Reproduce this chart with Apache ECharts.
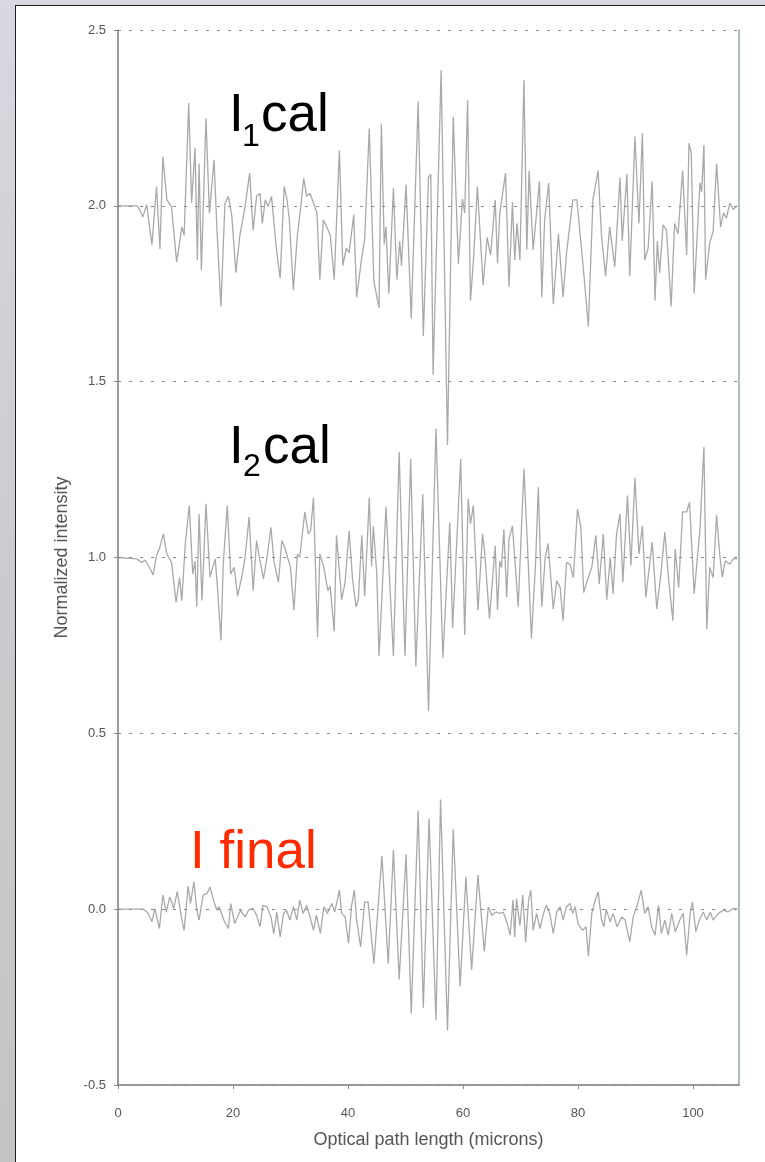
<!DOCTYPE html>
<html>
<head>
<meta charset="utf-8">
<script src="https://cdn.jsdelivr.net/npm/echarts@6/dist/echarts.min.js"></script>
<style>
  html, body { margin: 0; padding: 0; width: 765px; height: 1162px; overflow: hidden;
    background: linear-gradient(to bottom, #d8d8e0 0%, #cdcdd2 40%, #c4c4c4 100%); }
  #panel { position: absolute; left: 15px; top: 5px; width: 760px; height: 1170px;
    background: #ffffff; border: 1.5px solid #1e1e1e; box-sizing: border-box; }
  #chart { position: absolute; left: 0; top: 0; width: 765px; height: 1162px; }
</style>
</head>
<body>
<div id="panel"></div>
<div id="chart"></div>
<script>
// Optical path positions (microns) and normalized intensities for each trace.
const i1Path = [0,3.3,3.8,4.3,5.0,5.9,6.7,7.3,7.8,8.5,9.3,10.2,11.1,11.5,12.3,12.8,13.4,13.8,14.1,14.5,15.3,15.9,16.7,17.2,17.9,18.6,19.2,19.8,20.5,21.2,22.1,22.9,23.5,24.1,24.7,25.1,25.6,26.1,26.7,27.5,28.2,28.9,29.4,29.8,30.5,31.2,31.7,32.3,32.8,33.4,34.0,34.6,35.1,35.7,36.3,36.9,37.6,38.5,39.1,39.7,40.2,41.0,41.5,42.4,42.9,43.7,44.5,45.4,45.8,46.3,46.6,47.1,47.9,48.5,49.0,49.3,50.1,51.0,52.2,53.1,54.0,54.4,54.8,56.2,57.3,58.3,59.2,59.9,60.3,60.8,61.3,61.8,62.5,63.5,64.2,64.8,65.6,66.0,66.4,67.4,68.0,68.6,69.0,69.4,69.9,70.6,71.1,71.5,72.2,73.3,73.7,74.2,74.9,75.7,76.6,77.4,78.0,79.1,79.8,80.9,81.8,82.6,83.5,84.1,84.8,85.5,86.4,87.3,87.7,88.5,89.0,89.9,90.6,91.2,91.6,92.2,92.9,93.4,93.8,94.2,94.8,95.4,96.2,96.8,97.4,98.2,98.9,99.3,99.7,100.2,101.2,101.5,101.9,102.2,102.9,103.5,104.1,104.8,105.3,105.8,106.4,107.0,107.7];
const i1Val = [2.0,2.0,1.989,1.968,2.003,1.889,2.055,1.877,2.14,2.017,1.998,1.84,1.94,1.916,2.292,2.008,2.164,1.846,2.12,1.817,2.249,1.979,2.13,1.936,1.714,2.008,2.027,1.97,1.81,1.917,1.998,2.093,1.93,2.027,2.036,1.95,2.017,1.998,2.027,1.884,1.794,2.055,2.017,1.96,1.761,1.917,1.985,2.078,2.027,2.036,2.008,1.979,1.79,1.96,1.94,1.918,1.79,2.158,1.83,1.88,1.867,1.975,1.74,1.854,1.905,2.22,1.785,1.71,2.234,1.89,1.94,1.75,2.05,1.79,1.9,1.83,2.06,1.68,2.297,1.63,2.08,2.09,1.52,2.386,1.32,2.253,1.835,2.02,1.98,2.30,1.73,1.84,2.055,1.775,1.91,1.86,2.017,1.837,1.98,2.093,1.77,2.01,1.846,1.95,1.846,2.358,1.875,2.10,1.875,2.07,1.74,1.96,2.065,1.72,1.92,1.74,1.865,2.017,2.017,1.827,1.657,2.017,2.10,1.913,1.80,1.94,1.827,2.08,1.90,2.09,1.80,2.197,1.95,2.207,1.846,1.88,2.07,1.73,1.90,1.81,1.946,1.93,1.714,1.95,1.92,2.10,1.86,2.178,2.15,1.75,2.065,2.04,2.173,1.79,1.894,1.927,2.12,1.94,1.98,1.965,2.008,1.99,2.0];

const i2Path = [0,3.3,4.1,4.7,5.6,6.1,6.7,7.2,7.9,8.5,9.3,10.1,10.7,11.1,11.7,12.4,13.0,13.4,13.7,14.1,14.6,15.3,16.0,16.9,17.3,17.9,18.3,19.0,19.6,20.2,20.8,21.5,22.1,22.8,23.5,24.1,24.6,25.3,26.0,26.6,27.1,27.9,28.5,29.0,29.4,30.0,30.6,31.2,31.6,32.5,33.1,33.5,34.0,34.7,35.1,35.8,36.5,36.9,37.6,38.0,38.9,39.5,40.2,40.8,41.4,41.8,42.4,42.9,43.7,44.1,44.4,45.0,45.4,46.0,46.6,47.9,48.9,49.9,50.9,51.8,53.0,54.0,55.3,56.5,57.7,58.2,59.6,60.3,60.9,61.3,61.8,62.6,63.4,63.8,64.6,65.6,66.0,66.4,66.7,67.1,67.6,68.0,68.6,69.6,70.6,71.2,71.9,72.6,73.1,73.7,74.3,74.8,75.7,76.3,76.9,77.4,78.0,78.6,79.2,79.9,80.5,81.0,81.6,82.4,83.1,83.7,84.4,85.0,85.6,86.1,86.7,87.3,87.8,88.6,89.2,89.9,90.6,91.2,91.8,92.9,93.7,94.4,95.1,95.8,96.5,96.9,97.5,98.2,98.9,99.4,100.2,101.2,101.9,102.4,102.9,103.5,104.1,104.7,105.1,105.6,106.4,107.0,107.7];
const i2Val = [1.0,0.996,0.986,0.993,0.968,0.95,1.006,1.025,1.067,1.01,0.986,0.872,0.943,0.877,1.039,1.148,0.953,0.99,0.86,1.124,0.878,1.153,0.944,0.996,0.915,0.764,0.981,1.148,0.953,0.972,0.89,0.943,1.0,1.115,0.906,1.048,1.0,0.939,1.01,1.086,0.991,0.929,1.048,1.029,1.006,0.972,0.85,1.01,1.0,1.13,1.067,1.077,1.17,0.773,1.01,0.972,0.906,0.918,0.79,1.063,0.88,0.93,1.076,0.937,0.86,0.88,1.063,0.89,1.17,0.975,1.089,0.956,0.72,0.924,1.145,0.72,1.30,0.72,1.28,0.69,1.18,0.563,1.367,0.715,1.10,0.80,1.28,0.78,1.167,1.096,1.148,0.85,1.067,1.01,0.826,1.034,0.85,0.99,0.972,1.08,0.887,1.053,1.09,0.86,1.252,1.039,0.77,0.977,1.20,0.86,1.0,1.04,0.854,0.934,0.915,0.82,0.986,0.981,0.943,1.138,1.086,0.90,0.934,0.972,1.063,0.925,1.067,0.88,1.0,0.897,1.067,1.124,0.93,1.176,0.977,1.227,1.01,1.09,0.887,1.044,0.854,0.95,1.072,0.93,0.82,1.024,0.915,1.13,1.13,1.157,0.897,1.077,1.314,0.797,0.972,0.943,1.12,1.0,0.944,0.991,0.981,0.996,0.996];

const finalPath = [0,4.4,5.2,5.9,6.4,7.2,7.8,8.4,9.0,9.7,10.3,11.1,11.5,12.2,12.6,13.2,13.7,14.1,14.8,15.5,16.0,16.6,17.2,17.6,18.4,19.2,19.6,20.3,20.8,21.3,22.1,22.7,23.5,24.1,24.7,25.2,25.9,26.6,27.1,27.6,28.2,28.8,29.3,29.9,30.5,31.1,31.6,32.2,32.8,33.4,34.0,34.5,35.2,35.8,36.4,37.2,37.7,38.5,38.9,39.5,40.1,40.6,41.1,41.5,42.2,42.9,43.5,44.5,45.9,47.0,47.9,48.9,50.1,51.0,52.2,53.1,54.1,55.3,56.1,57.3,58.3,59.5,60.5,61.5,62.6,63.7,64.4,65.0,65.8,66.4,67.0,67.7,68.2,68.7,69.0,69.3,69.9,70.4,70.9,71.4,71.8,72.2,72.8,73.4,74.0,74.5,75.1,75.7,76.3,76.9,77.4,78.0,78.6,79.1,79.5,80.0,80.8,81.4,81.8,82.4,82.9,83.5,84.1,84.5,84.9,85.6,86.1,86.8,87.6,88.2,89.0,89.6,90.3,91.0,91.6,92.2,92.8,93.4,94.0,94.5,95.1,95.7,96.3,96.9,97.7,98.3,98.9,99.5,99.9,100.5,101.1,101.8,102.4,103.0,103.5,104.4,105.3,106.1,107.0,107.7];
const finalVal = [0,0,-0.01,-0.036,0.002,-0.055,0.04,-0.008,0.035,0.002,0.05,-0.03,-0.06,0.066,0.016,0.078,-0.003,-0.031,0.04,0.045,0.063,0.026,-0.003,0.007,-0.031,-0.055,0.016,-0.041,-0.022,-0.003,-0.022,-0.003,0.002,-0.017,-0.05,0.011,0.007,-0.022,-0.07,-0.008,-0.079,-0.012,-0.003,-0.031,0.007,-0.031,0.026,-0.012,0.011,-0.022,-0.06,-0.017,-0.069,0.007,-0.012,0.016,-0.008,0.054,-0.012,-0.022,-0.097,0.007,0.054,-0.031,-0.107,0.021,0.02,-0.155,0.151,-0.155,0.168,-0.20,0.156,-0.296,0.28,-0.28,0.258,-0.316,0.312,-0.344,0.227,-0.22,0.092,-0.173,0.097,-0.12,0.007,-0.017,-0.008,-0.012,-0.008,-0.041,-0.074,0.026,-0.079,0.03,-0.046,0.04,-0.093,0.026,0.054,-0.06,-0.012,-0.055,-0.012,0.011,-0.012,-0.069,-0.008,0.007,-0.031,0.007,0.016,-0.012,0.007,-0.041,-0.06,-0.05,-0.134,-0.012,0.021,0.049,-0.031,-0.05,0.0,-0.036,-0.012,-0.05,-0.022,-0.031,-0.093,-0.022,0.011,0.054,-0.012,0.007,-0.05,-0.074,0.011,-0.069,-0.031,-0.074,-0.012,-0.064,-0.031,-0.012,-0.131,-0.012,0.021,-0.064,-0.031,-0.008,-0.031,-0.008,-0.031,-0.012,-0.003,-0.008,0.002,0.0];

const yTicks = [-0.5, 0.0, 0.5, 1.0, 1.5, 2.0, 2.5];
const xTicks = [0, 20, 40, 60, 80, 100];

const pair = (xs, ys) => xs.map((x, i) => [x, ys[i]]);

const chart = echarts.init(document.getElementById('chart'), null, { renderer: 'canvas' });

const traceStyle = { color: '#a9a9a9', width: 1.3 };
const font = '"Liberation Sans", Arial, Helvetica, sans-serif';

chart.setOption({
  animation: false,
  backgroundColor: 'transparent',
  grid: { left: 118, right: 26, top: 30, bottom: 77 },
  xAxis: {
    type: 'value', min: xTicks[0], max: 108, interval: 20,
    name: 'Optical path length (microns)', nameLocation: 'middle', nameGap: 46,
    nameTextStyle: { fontFamily: font, fontSize: 18, color: '#555' },
    axisLine: { onZero: false, lineStyle: { color: '#7a7a7a', width: 1.5 } },
    axisTick: { length: 4, lineStyle: { color: '#8a8a8a' } },
    axisLabel: { fontFamily: font, fontSize: 13, color: '#555', margin: 22, showMaxLabel: false },
    splitLine: { show: false }
  },
  yAxis: [{
    type: 'value', min: yTicks[0], max: yTicks[yTicks.length - 1], interval: 0.5, z: 5,
    name: 'Normalized intensity', nameLocation: 'middle', nameGap: 47,
    nameTextStyle: { fontFamily: font, fontSize: 18, color: '#555' },
    axisLine: { onZero: false, lineStyle: { color: '#7a7a7a', width: 1.5 } },
    axisTick: { length: 4, lineStyle: { color: '#8a8a8a' } },
    axisLabel: { fontFamily: font, fontSize: 13, color: '#555', margin: 12,
      formatter: v => v.toFixed(1) },
    splitLine: { show: true, lineStyle: { color: '#8c8c8c', width: 1.2, type: [3, 8] } }
  }, {
    type: 'value', position: 'right', min: yTicks[0], max: yTicks[yTicks.length - 1],
    interval: 0.5,
    axisLine: { show: true, onZero: false, lineStyle: { color: '#9aa6a8', width: 1.5 } },
    axisTick: { show: false }, axisLabel: { show: false }, splitLine: { show: false }
  }],
  series: [
    { name: 'I1cal', type: 'line', data: pair(i1Path, i1Val), showSymbol: false,
      lineStyle: traceStyle, z: 2 },
    { name: 'I2cal', type: 'line', data: pair(i2Path, i2Val), showSymbol: false,
      lineStyle: traceStyle, z: 2 },
    { name: 'I final', type: 'line', data: pair(finalPath, finalVal), showSymbol: false,
      lineStyle: traceStyle, z: 2 }
  ],
  graphic: [
    { type: 'text', x: 229, y: 116, style: { text: 'I', font: '53px ' + font, fill: '#000', textVerticalAlign: 'middle' } },
    { type: 'text', x: 242, y: 137, style: { text: '1', font: '32px ' + font, fill: '#000', textVerticalAlign: 'middle' } },
    { type: 'text', x: 261, y: 116, style: { text: 'cal', font: '53px ' + font, fill: '#000', textVerticalAlign: 'middle' } },
    { type: 'text', x: 229, y: 448, style: { text: 'I', font: '53px ' + font, fill: '#000', textVerticalAlign: 'middle' } },
    { type: 'text', x: 243, y: 467, style: { text: '2', font: '32px ' + font, fill: '#000', textVerticalAlign: 'middle' } },
    { type: 'text', x: 263, y: 448, style: { text: 'cal', font: '53px ' + font, fill: '#000', textVerticalAlign: 'middle' } },
    { type: 'text', x: 190, y: 853, style: { text: 'I final', font: '53px ' + font, fill: '#ff2a00', textVerticalAlign: 'middle' } }
  ]
});
</script>
</body>
</html>
